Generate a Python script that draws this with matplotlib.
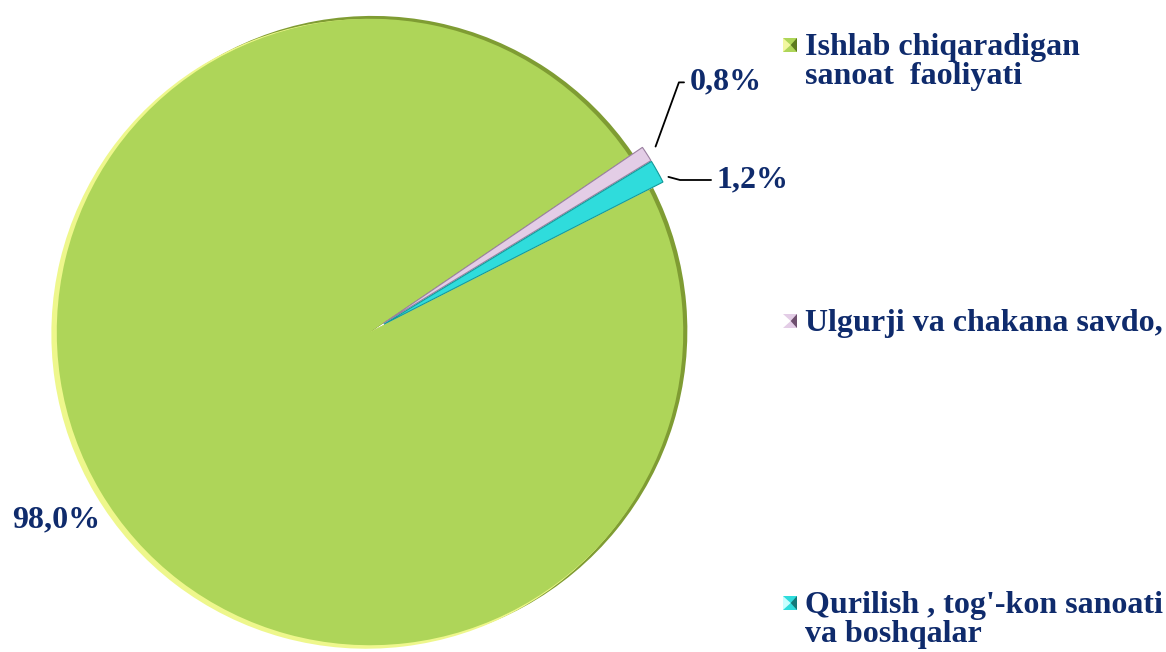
import matplotlib.pyplot as plt
from matplotlib.patches import Polygon

labels = ["Ishlab chiqaradigan\nsanoat  faoliyati",
          "Ulgurji va chakana savdo,",
          "Qurilish , tog'-kon sanoati\nva boshqalar"]
shares = [98.0, 0.8, 1.2]
pct_text = ["98,0%", "0,8%", "1,2%"]
colors = ["#aed559", "#e3cde6", "#2fdcdc"]
dark = ["#5c7a1e", "#6e4f6e", "#137a7a"]
light = ["#f2f7a0", "#ffffff", "#c8ffff"]

navy = "#0f2b6c"
plt.rcParams['font.family'] = ['Liberation Serif', 'DejaVu Serif']

fig = plt.figure(figsize=(11.66, 6.52), dpi=100)
W, H = 1166, 652
cx, cy, r = 370, 332, 318
ax = fig.add_axes([(cx - r) / W, (H - cy - r) / H, 2 * r / W, 2 * r / H])

ex = [0, 0.05, 0.05]
# darker shade at upper right, soft yellow rim at left
ax.pie(shares, radius=0.99, startangle=27, counterclock=False,
       colors=["#7f9c33", "none", "none"], explode=ex,
       wedgeprops=dict(linewidth=0), center=(0.008, 0.004))
ax.pie(shares, radius=0.99, startangle=27, counterclock=False,
       colors=["#eef78c", "none", "none"], explode=ex,
       wedgeprops=dict(linewidth=0), center=(-0.012, -0.006))
wedges, _ = ax.pie(shares, radius=0.985, startangle=27, counterclock=False,
                   colors=colors, explode=ex,
                   wedgeprops=dict(linewidth=0))
wedges[1].set_edgecolor("#9a7fa0")
wedges[1].set_linewidth(0.8)
wedges[2].set_edgecolor("#139999")
wedges[2].set_linewidth(0.8)
ax.set_xlim(-1, 1)
ax.set_ylim(-1, 1)
ax.set_aspect('equal')
ax.axis('off')

tf = dict(fontsize=23, fontweight='bold', color=navy)

# percentage labels
fig.text(12 / W, 1 - 520 / H, pct_text[0], va='center', ha='left', **tf)
ax.annotate(pct_text[1], xy=(0.895, 0.575), xytext=(1.005, 0.785),
            textcoords='data', va='center', ha='left', **tf,
            arrowprops=dict(arrowstyle='-', color='black', lw=1.3,
                            connectionstyle='angle,angleA=0,angleB=70,rad=0'))
ax.annotate(pct_text[2], xy=(0.93, 0.49), xytext=(1.09, 0.478),
            textcoords='data', va='center', ha='left', **tf,
            arrowprops=dict(arrowstyle='-', color='black', lw=1.3,
                            connectionstyle='angle,angleA=0,angleB=-15,rad=0'))

# legend with bevelled markers
leg_y = [46, 322, 604]
for i, lab in enumerate(labels):
    x0, y0, s = 783, leg_y[i] - 8, 14
    def P(px, py):
        return (px / W, 1 - py / H)
    tl, tr, bl, br = P(x0, y0), P(x0 + s, y0), P(x0, y0 + s), P(x0 + s, y0 + s)
    mid = P(x0 + s * 0.55, y0 + s / 2)
    fig.patches.append(Polygon([tl, tr, br, bl], closed=True, facecolor=colors[i],
                               edgecolor='none', transform=fig.transFigure))
    fig.patches.append(Polygon([tl, mid, bl], closed=True, facecolor=light[i],
                               edgecolor='none', transform=fig.transFigure))
    fig.patches.append(Polygon([tr, br, mid], closed=True, facecolor=dark[i],
                               edgecolor='none', transform=fig.transFigure))
    fig.text(805 / W, 1 - (leg_y[i] - 13) / H, lab, va='top', ha='left',
             linespacing=1.0, **tf)

fig.savefig("out.png", dpi=100)
